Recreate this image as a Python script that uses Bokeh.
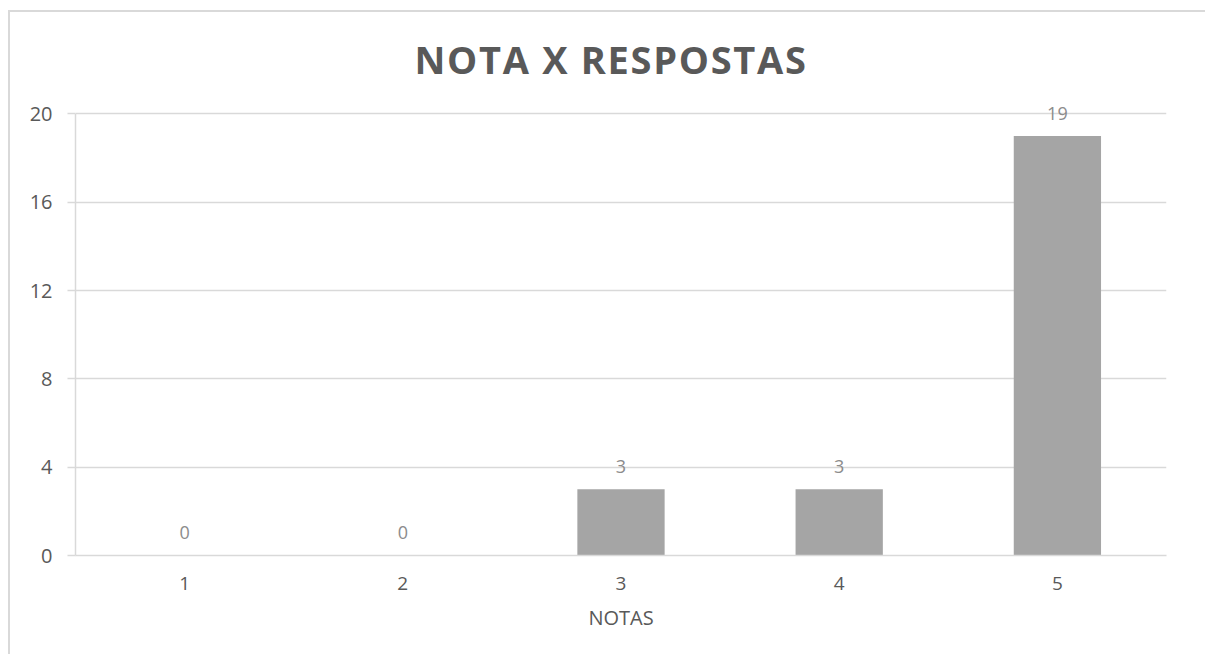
from bokeh.plotting import figure
from bokeh.models import ColumnDataSource, FactorRange, Range1d, FixedTicker, LabelSet, Div
from bokeh.layouts import column
from bokeh.core.properties import value
from bokeh.embed import file_html
from bokeh.resources import INLINE

categories = ["1", "2", "3", "4", "5"]
counts = [0, 0, 3, 3, 19]
y_ticks = [0, 4, 8, 12, 16, 20]
title_text = "NOTA X RESPOSTAS"
x_label = "NOTAS"

FONT = "Open Sans"
GRID = "#d9d9d9"

src = ColumnDataSource(dict(x=categories, y=counts, lbl=[str(v) for v in counts]))

title = Div(
    text=(f'<div style="font-family:\'{FONT}\';font-weight:bold;font-size:38px;'
          f'line-height:1;letter-spacing:1.7px;color:#595959;text-align:center;'
          f'width:1195px;padding-top:28px;padding-left:7px;box-sizing:border-box;">'
          f'{title_text}</div>'),
    width=1195, height=86, margin=(0, 0, 0, 0),
)

p = figure(
    x_range=FactorRange(*categories, range_padding=0),
    y_range=Range1d(0, 20.7),
    width=1195, height=556,
    output_backend="svg", toolbar_location=None,
    min_border_left=65, min_border_right=39,
    min_border_top=0, min_border_bottom=99,
)

p.outline_line_color = None
p.background_fill_color = "white"
p.border_fill_color = "white"

p.vbar(x="x", top="y", width=0.4, source=src, color="#a5a5a5", line_color=None)
labels = LabelSet(x="x", y="y", text="lbl", source=src, text_align="center",
                  text_baseline="middle", y_offset=23, text_font=value(FONT),
                  text_font_size="18px", text_color="#8c8c8c")
p.add_layout(labels)

p.xgrid.grid_line_color = None
p.ygrid.grid_line_color = GRID
p.ygrid.grid_line_width = 1.5
p.ygrid.ticker = FixedTicker(ticks=y_ticks)

p.yaxis.ticker = FixedTicker(ticks=y_ticks)
p.yaxis.bounds = (0, 20)
p.yaxis.axis_line_color = GRID
p.yaxis.axis_line_width = 1.5
p.yaxis.major_tick_line_color = GRID
p.yaxis.major_tick_line_width = 1.5
p.yaxis.major_tick_out = 8
p.yaxis.major_tick_in = 0
p.yaxis.minor_tick_line_color = None
p.yaxis.major_label_standoff = 15
p.yaxis.major_label_text_font = FONT
p.yaxis.major_label_text_font_size = "20px"
p.yaxis.major_label_text_color = "#595959"

p.xaxis.axis_line_color = GRID
p.xaxis.axis_line_width = 1.5
p.xaxis.major_tick_line_color = None
p.xaxis.minor_tick_line_color = None
p.xaxis.major_label_standoff = 15
p.xaxis.major_label_text_font = FONT
p.xaxis.major_label_text_font_size = "19px"
p.xaxis.major_label_text_color = "#595959"
p.xaxis.axis_label = x_label
p.xaxis.axis_label_text_font = FONT
p.xaxis.axis_label_text_font_size = "20px"
p.xaxis.axis_label_text_font_style = "normal"
p.xaxis.axis_label_text_color = "#595959"
p.xaxis.axis_label_standoff = 11

layout = column(title, p, spacing=0)
layout.styles = {"border-left": f"2px solid {GRID}", "border-top": f"2px solid {GRID}",
                 "margin-left": "8px", "margin-top": "10px", "background": "white"}

open("out.html", "w").write(file_html(layout, INLINE))
